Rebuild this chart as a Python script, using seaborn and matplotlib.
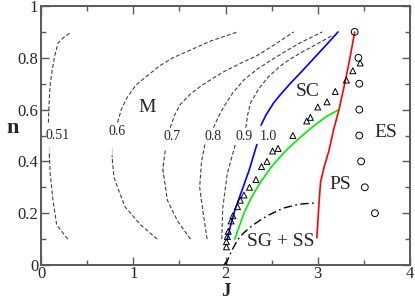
import numpy as np
import pandas as pd
import matplotlib
matplotlib.use('Agg')
import matplotlib.pyplot as plt
import seaborn as sns
from matplotlib.ticker import MultipleLocator, FormatStrFormatter

# dashed iso-lines, each split into a lower and upper piece around its label
iso_levels = ['0.51', '0.6', '0.7', '0.8', '0.9']
iso_lo_J = [[0.29, 0.17, 0.13, 0.10, 0.09, 0.09],
            [1.26, 1.08, 0.91, 0.83, 0.79, 0.77, 0.77],
            [1.62, 1.48, 1.37, 1.32, 1.32, 1.35],
            [1.80, 1.75, 1.72, 1.74, 1.78],
            [1.96, 1.97, 2.02, 2.11]]
iso_lo_n = [[0.10, 0.155, 0.25, 0.35, 0.40, 0.46],
            [0.10, 0.155, 0.225, 0.30, 0.34, 0.39, 0.455],
            [0.10, 0.17, 0.25, 0.34, 0.40, 0.45],
            [0.10, 0.22, 0.30, 0.40, 0.47],
            [0.10, 0.22, 0.355, 0.47]]
iso_up_J = [[0.08, 0.085, 0.09, 0.10, 0.12, 0.15, 0.185, 0.25, 0.315],
            [0.83, 0.87, 0.93, 1.03, 1.15, 1.29, 1.43, 1.62, 1.84, 2.13],
            [1.40, 1.45, 1.51, 1.62, 1.73, 1.86, 2.00, 2.17, 2.35, 2.55, 2.74],
            [1.87, 1.92, 1.98, 2.08, 2.20, 2.34, 2.49, 2.65, 2.82, 3.05],
            [2.22, 2.24, 2.27, 2.36, 2.46, 2.60, 2.70, 2.82, 3.00, 3.15]]
iso_up_n = [[0.55, 0.60, 0.64, 0.70, 0.75, 0.81, 0.857, 0.88, 0.896],
            [0.55, 0.60, 0.645, 0.695, 0.73, 0.77, 0.80, 0.83, 0.865, 0.90],
            [0.53, 0.58, 0.62, 0.66, 0.69, 0.72, 0.75, 0.78, 0.81, 0.855, 0.90],
            [0.53, 0.57, 0.61, 0.665, 0.715, 0.755, 0.79, 0.825, 0.86, 0.90],
            [0.53, 0.58, 0.625, 0.68, 0.725, 0.77, 0.795, 0.82, 0.855, 0.885]]
label_J = [0.18, 0.82, 1.42, 1.86, 2.20, 2.46]
label_n = [0.50, 0.515, 0.495, 0.495, 0.495, 0.495]
label_txt = ['0.51', '0.6', '0.7', '0.8', '0.9', '1.0']

# blue (1.0) line, split by its label
blue_lo_J = [2.02, 2.06, 2.10, 2.15, 2.20, 2.26, 2.31, 2.34]
blue_lo_n = [0.10, 0.16, 0.21, 0.26, 0.31, 0.37, 0.43, 0.465]
blue_up_J = [2.385, 2.44, 2.52, 2.60, 2.70, 2.82, 2.95, 3.08, 3.22]
blue_up_n = [0.54, 0.58, 0.625, 0.66, 0.70, 0.745, 0.795, 0.845, 0.90]

green_J = [2.10, 2.15, 2.20, 2.28, 2.38, 2.50, 2.65, 2.80, 2.95, 3.10, 3.23]
green_n = [0.10, 0.15, 0.20, 0.26, 0.32, 0.38, 0.44, 0.49, 0.535, 0.575, 0.60]

red_J = [2.99, 3.00, 3.01, 3.03, 3.07, 3.12, 3.17, 3.23, 3.28, 3.33, 3.37, 3.40]
red_n = [0.105, 0.16, 0.22, 0.32, 0.38, 0.44, 0.52, 0.60, 0.68, 0.765, 0.84, 0.90]

sgss_J = [2.00, 2.06, 2.13, 2.20, 2.30, 2.45, 2.63, 2.80, 2.99]
sgss_n = [0.00, 0.05, 0.097, 0.125, 0.155, 0.19, 0.22, 0.235, 0.24]

circ_J = [3.40, 3.44, 3.45, 3.45, 3.45, 3.47, 3.51, 3.62]
circ_n = [0.90, 0.80, 0.70, 0.60, 0.50, 0.40, 0.30, 0.20]

tri_J = [3.46, 3.38, 3.31, 3.19, 3.10, 3.00, 2.92, 2.88, 2.73, 2.57, 2.51, 2.45, 2.39,
         2.33, 2.26, 2.20, 2.16, 2.13, 2.08, 2.06, 2.03, 2.02, 2.01, 2.01, 2.00]
tri_n = [0.78, 0.75, 0.714, 0.67, 0.63, 0.61, 0.57, 0.556, 0.50, 0.45, 0.44, 0.40, 0.38,
         0.33, 0.30, 0.27, 0.25, 0.225, 0.19, 0.17, 0.13, 0.11, 0.09, 0.07, 0.00]

regions = ['M', 'SC', 'ES', 'PS', 'SG + SS']
region_J = [1.15, 2.89, 3.74, 3.24, 2.60]
region_n = [0.61, 0.67, 0.51, 0.31, 0.09]

sns.set_style("ticks")
plt.rcParams['font.family'] = ['Liberation Serif', 'DejaVu Serif']

fig = plt.figure(figsize=(4.15, 3.02), dpi=100)
ax = fig.add_axes([0.0988, 0.1225, 0.8892, 0.8576])

dash = dict(color='0.25', linewidth=0.8, linestyle=(0, (3.5, 2)))
for i in range(len(iso_levels)):
    sns.lineplot(x=iso_lo_J[i], y=iso_lo_n[i], sort=False, ax=ax, **dash)
    sns.lineplot(x=iso_up_J[i], y=iso_up_n[i], sort=False, ax=ax, **dash)

sns.lineplot(x=blue_lo_J, y=blue_lo_n, sort=False, ax=ax, color='#0000ff', linewidth=1.2)
sns.lineplot(x=blue_up_J, y=blue_up_n, sort=False, ax=ax, color='#0000ff', linewidth=1.2)
sns.lineplot(x=green_J, y=green_n, sort=False, ax=ax, color='#00ee00', linewidth=1.2)
sns.lineplot(x=red_J, y=red_n, sort=False, ax=ax, color='#ff0000', linewidth=1.2)
sns.lineplot(x=sgss_J, y=sgss_n, sort=False, ax=ax, color='black', linewidth=1.0,
             linestyle=(0, (6, 2.5, 1.2, 2.5)))

sns.scatterplot(x=tri_J, y=tri_n, ax=ax, marker='^', s=18, facecolor='none',
                edgecolor='black', linewidth=0.7, zorder=5)
sns.scatterplot(x=circ_J, y=circ_n, ax=ax, marker='o', s=24, facecolor='none',
                edgecolor='black', linewidth=0.7, zorder=5)

for t, x, y in zip(label_txt, label_J, label_n):
    ax.text(x, y, t, fontsize=10, ha='center', va='center')
for t, x, y in zip(regions, region_J, region_n):
    ax.text(x, y, t, fontsize=14, ha='center', va='center')

ax.set_xlim(0, 4)
ax.set_ylim(0, 1)
ax.xaxis.set_major_locator(MultipleLocator(1))
ax.xaxis.set_minor_locator(MultipleLocator(0.5))
ax.yaxis.set_major_locator(MultipleLocator(0.2))
ax.yaxis.set_minor_locator(MultipleLocator(0.1))
ax.yaxis.set_major_formatter(FormatStrFormatter('%g'))
ax.xaxis.set_major_formatter(FormatStrFormatter('%g'))

frame = '0.35'
for s in ax.spines.values():
    s.set_color(frame)
    s.set_linewidth(1.4)
ax.tick_params(which='both', direction='in', top=True, right=True, color=frame,
               width=1.0, labelsize=12, pad=2)
ax.tick_params(axis='x', which='major', pad=1)
ax.tick_params(which='major', length=6)
ax.tick_params(which='minor', length=3.5)

ax.set_xlabel('J', fontsize=13.5, fontweight='bold')
ax.set_ylabel('n', fontsize=16, fontweight='bold', rotation=0)
ax.xaxis.set_label_coords(0.5, -0.071)
ax.yaxis.set_label_coords(-0.078, 0.49)

fig.savefig('out.png', dpi=100)
